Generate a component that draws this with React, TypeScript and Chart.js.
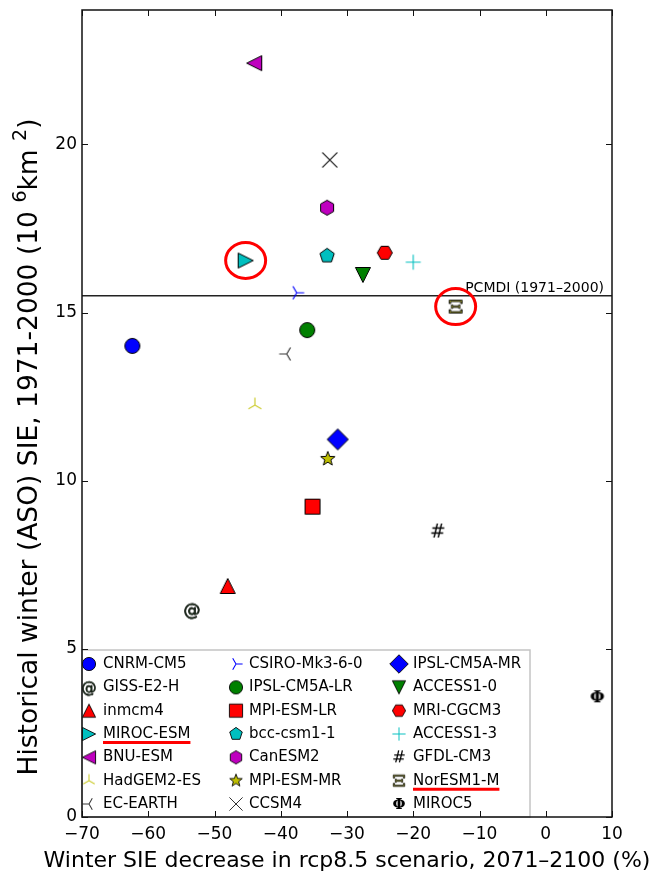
import React, { useEffect, useRef } from "react";
import { Chart, registerables } from "chart.js";

Chart.register(...registerables);

// ---------------- data ----------------
const models = [
  "CNRM-CM5", "GISS-E2-H", "inmcm4", "MIROC-ESM", "BNU-ESM", "HadGEM2-ES", "EC-EARTH",
  "CSIRO-Mk3-6-0", "IPSL-CM5A-LR", "MPI-ESM-LR", "bcc-csm1-1", "CanESM2", "MPI-ESM-MR", "CCSM4",
  "IPSL-CM5A-MR", "ACCESS1-0", "MRI-CGCM3", "ACCESS1-3", "GFDL-CM3", "NorESM1-M", "MIROC5",
];
const sieDecrease = [
  -62.4, -53.4, -48.0, -45.3, -44.0, -43.9, -39.1,
  -37.6, -36.0, -35.2, -33.0, -33.0, -32.9, -32.6,
  -31.4, -27.6, -24.3, -20.0, -16.3, -13.6, 7.8,
];
const historicalSIE = [
  14.01, 6.14, 6.87, 16.55, 22.42, 12.25, 13.77,
  15.59, 14.48, 9.23, 16.69, 18.12, 10.65, 19.54,
  11.23, 16.12, 16.78, 16.5, 8.49, 15.18, 3.56,
];
const pcmdiSIE = 15.5;
const pcmdiLabel = "PCMDI (1971–2000)";
const highlighted = ["MIROC-ESM", "NorESM1-M"];
const xTicks = [-70, -60, -50, -40, -30, -20, -10, 0, 10];
const yTicks = [0, 5, 10, 15, 20];
const yMax = 24;
const xTitle = "Winter SIE decrease in rcp8.5 scenario, 2071–2100 (%)";

// ---------------- styles ----------------
const markerKinds = [
  "o", "@", "^", ">", "<", "2", "3",
  "4", "o", "s", "p", "h", "*", "x",
  "D", "v", "H", "+", "#", "Xi", "Phi",
];
const markerColors = [
  "#0000ff", "#2a4a2a", "#ff0000", "#00bfbf", "#bf00bf", "#cccc30", "#3a3a3a",
  "#0000ff", "#008000", "#ff0000", "#00bfbf", "#bf00bf", "#bfbf00", "#2a2a2a",
  "#0000ff", "#008000", "#ff0000", "#00bfbf", "#000000", "#9a9a20", "#000000",
];

function makeMarker(kind: string, color: string, scale = 1): HTMLCanvasElement {
  const S = Math.ceil(34 * scale);
  const c = document.createElement("canvas");
  c.width = S;
  c.height = S;
  const g = c.getContext("2d")!;
  g.translate(S / 2, S / 2);
  g.scale(scale, scale);
  const r = 7.5;
  g.lineWidth = 1;
  g.strokeStyle = "#000";
  g.fillStyle = color;
  g.lineJoin = "miter";
  const poly = (pts: number[][]) => {
    g.beginPath();
    pts.forEach(([x, y], i) => (i ? g.lineTo(x, y) : g.moveTo(x, y)));
    g.closePath();
    g.fill();
    g.stroke();
  };
  const reg = (n: number, rad: number, start: number) => {
    const pts: number[][] = [];
    for (let k = 0; k < n; k++) {
      const a = start + (k * 2 * Math.PI) / n;
      pts.push([rad * Math.cos(a), rad * Math.sin(a)]);
    }
    return pts;
  };
  const arms = (pts: number[][]) => {
    g.strokeStyle = color;
    g.lineWidth = 1.2;
    g.beginPath();
    pts.forEach(([x, y]) => {
      g.moveTo(0, 0);
      g.lineTo(x, y);
    });
    g.stroke();
  };
  const text = (ch: string, font: string, stroke: boolean, dy = 0) => {
    g.font = font;
    g.textAlign = "center";
    g.textBaseline = "middle";
    g.fillStyle = color;
    g.fillText(ch, 0, dy);
    if (stroke) {
      g.lineWidth = 0.7;
      g.strokeStyle = "#000";
      g.strokeText(ch, 0, dy);
    }
  };
  switch (kind) {
    case "o":
      g.beginPath();
      g.arc(0, 0, r, 0, Math.PI * 2);
      g.fill();
      g.stroke();
      break;
    case "^":
      poly([[0, -r], [-r, r], [r, r]]);
      break;
    case "v":
      poly([[0, r], [-r, -r], [r, -r]]);
      break;
    case ">":
      poly([[r, 0], [-r, -r], [-r, r]]);
      break;
    case "<":
      poly([[-r, 0], [r, -r], [r, r]]);
      break;
    case "s":
      poly([[-r, -r], [r, -r], [r, r], [-r, r]]);
      break;
    case "D": {
      const d = r * 1.4;
      poly([[0, -d], [d, 0], [0, d], [-d, 0]]);
      break;
    }
    case "p":
      poly(reg(5, r, -Math.PI / 2));
      break;
    case "h":
      poly(reg(6, r, -Math.PI / 2));
      break;
    case "H":
      poly(reg(6, r, 0));
      break;
    case "*": {
      const pts: number[][] = [];
      for (let k = 0; k < 10; k++) {
        const a = -Math.PI / 2 + (k * Math.PI) / 5;
        const rad = k % 2 === 0 ? r : r * 0.42;
        pts.push([rad * Math.cos(a), rad * Math.sin(a)]);
      }
      poly(pts);
      break;
    }
    case "x":
      g.strokeStyle = color;
      g.lineWidth = 1.1;
      g.beginPath();
      g.moveTo(-r, -r);
      g.lineTo(r, r);
      g.moveTo(-r, r);
      g.lineTo(r, -r);
      g.stroke();
      break;
    case "+":
      g.strokeStyle = color;
      g.lineWidth = 1.1;
      g.beginPath();
      g.moveTo(-r, 0);
      g.lineTo(r, 0);
      g.moveTo(0, -r);
      g.lineTo(0, r);
      g.stroke();
      break;
    case "2":
      arms([[0, -r], [-0.866 * r, 0.5 * r], [0.866 * r, 0.5 * r]]);
      break;
    case "3":
      arms([[-r, 0], [0.5 * r, -0.866 * r], [0.5 * r, 0.866 * r]]);
      break;
    case "4":
      arms([[r, 0], [-0.5 * r, -0.866 * r], [-0.5 * r, 0.866 * r]]);
      break;
    case "@":
      text("@", "17px 'DejaVu Sans'", true, 1);
      break;
    case "#":
      text("#", "19px 'DejaVu Sans'", false, 1);
      break;
    case "Xi": {
      // Greek capital Xi drawn as outlined bars (text-marker look)
      g.fillStyle = color;
      g.strokeStyle = "#111";
      g.lineWidth = 0.9;
      const shape = (pts: number[][]) => poly(pts);
      // top bar with downward serifs
      shape([[-6.5, -6.5], [6.5, -6.5], [6.5, -3], [5, -3], [5, -5], [-5, -5], [-5, -3], [-6.5, -3]]);
      // middle bar with small serifs
      shape([[-4.2, -1.8], [-3, -1.8], [-3, -0.8], [3, -0.8], [3, -1.8], [4.2, -1.8], [4.2, 1.8], [3, 1.8], [3, 0.8], [-3, 0.8], [-3, 1.8], [-4.2, 1.8]]);
      // bottom bar with upward serifs
      shape([[-6.5, 6.5], [6.5, 6.5], [6.5, 3], [5, 3], [5, 5], [-5, 5], [-5, 3], [-6.5, 3]]);
      break;
    }
    case "Phi":
      text("Φ", "bold 17px 'DejaVu Serif'", false, 1);
      break;
  }
  return c;
}

export default function App() {
  const ref = useRef<HTMLCanvasElement>(null);

  useEffect(() => {
    const canvas = ref.current!;
    const plotMarkers = models.map((_, i) => makeMarker(markerKinds[i], markerColors[i], 1));
    const legendMarkers = models.map((_, i) => makeMarker(markerKinds[i], markerColors[i], 0.88));
    const font = "'DejaVu Sans', 'Liberation Sans', sans-serif";
    const fmt = (v: number) => String(v).replace("-", "\u2212");

    const datasets: any[] = models.map((m, i) => ({
      label: m,
      data: [{ x: sieDecrease[i], y: historicalSIE[i] }],
      pointStyle: plotMarkers[i],
      pointRadius: 8,
      showLine: false,
    }));
    datasets.push({
      label: "PCMDI",
      type: "line",
      data: [
        { x: xTicks[0], y: pcmdiSIE },
        { x: xTicks[xTicks.length - 1], y: pcmdiSIE },
      ],
      borderColor: "#222",
      borderWidth: 1.5,
      pointRadius: 0,
      showLine: true,
    });

    const decor = {
      id: "decor",
      afterDraw(chart: any) {
        const ctx = chart.ctx as CanvasRenderingContext2D;
        const ca = chart.chartArea;
        const xs = chart.scales.x;
        const ys = chart.scales.y;
        ctx.save();

        // PCMDI label
        ctx.font = `14px ${font}`;
        ctx.fillStyle = "#000";
        ctx.textAlign = "right";
        ctx.textBaseline = "alphabetic";
        ctx.fillText(pcmdiLabel, ca.right - 8, ys.getPixelForValue(pcmdiSIE) - 4);

        // red ellipses around highlighted models
        ctx.strokeStyle = "#ff0000";
        ctx.lineWidth = 3;
        highlighted.forEach((m) => {
          const i = models.indexOf(m);
          const px = xs.getPixelForValue(sieDecrease[i]);
          const py = ys.getPixelForValue(historicalSIE[i]);
          ctx.beginPath();
          ctx.ellipse(px, py, 20, 18, 0, 0, Math.PI * 2);
          ctx.stroke();
        });

        // legend
        const lx = ca.left, lyTop = ca.bottom - 167, lw = 448, lh = 167;
        ctx.fillStyle = "#fff";
        ctx.fillRect(lx, lyTop, lw, lh);
        ctx.strokeStyle = "#c4c4c4";
        ctx.lineWidth = 1.5;
        ctx.strokeRect(lx, lyTop, lw, lh);
        const markX = [7, 154, 317];
        const textX = [21, 167, 331];
        ctx.font = `15px ${font}`;
        ctx.textAlign = "left";
        ctx.textBaseline = "middle";
        models.forEach((m, i) => {
          const col = Math.floor(i / 7);
          const row = i % 7;
          const cy = lyTop + 14 + row * 23.33;
          const mk = legendMarkers[i];
          ctx.drawImage(mk, lx + markX[col] - mk.width / 2, cy - mk.height / 2);
          ctx.fillStyle = "#000";
          ctx.fillText(m, lx + textX[col], cy);
          if (highlighted.includes(m)) {
            const w = ctx.measureText(m).width;
            ctx.strokeStyle = "#ff0000";
            ctx.lineWidth = 3;
            ctx.beginPath();
            ctx.moveTo(lx + textX[col], cy + 8.5);
            ctx.lineTo(lx + textX[col] + w, cy + 8.5);
            ctx.stroke();
          }
        });

        // frame
        ctx.strokeStyle = "#111";
        ctx.lineWidth = 1.5;
        ctx.strokeRect(ca.left, ca.top, ca.right - ca.left, ca.bottom - ca.top);

        // inward ticks on all sides
        ctx.lineWidth = 1;
        ctx.beginPath();
        xTicks.forEach((v) => {
          const px = Math.round(xs.getPixelForValue(v)) + 0.5;
          ctx.moveTo(px, ca.bottom);
          ctx.lineTo(px, ca.bottom - 6);
          ctx.moveTo(px, ca.top);
          ctx.lineTo(px, ca.top + 6);
        });
        yTicks.forEach((v) => {
          const py = Math.round(ys.getPixelForValue(v)) + 0.5;
          ctx.moveTo(ca.left, py);
          ctx.lineTo(ca.left + 6, py);
          ctx.moveTo(ca.right, py);
          ctx.lineTo(ca.right - 6, py);
        });
        ctx.stroke();

        // x title
        ctx.fillStyle = "#000";
        ctx.font = `22px ${font}`;
        ctx.textAlign = "center";
        ctx.textBaseline = "alphabetic";
        ctx.fillText(xTitle, (ca.left + ca.right) / 2, 867);

        // y title with superscripts
        const fs = 26.5;
        const segs: [string, boolean][] = [
          ["Historical winter (ASO) SIE, 1971-2000 (10 ", false],
          ["6", true],
          ["km ", false],
          ["2", true],
          [")", false],
        ];
        const widths = segs.map(([t, sup]) => {
          ctx.font = `${sup ? Math.round(fs * 0.7) : fs}px ${font}`;
          return ctx.measureText(t).width;
        });
        const total = widths.reduce((a, b) => a + b, 0);
        ctx.translate(37, 447);
        ctx.rotate(-Math.PI / 2);
        ctx.textAlign = "left";
        let cx = -total / 2;
        segs.forEach(([t, sup], k) => {
          ctx.font = `${sup ? Math.round(fs * 0.7) : fs}px ${font}`;
          ctx.fillText(t, cx, sup ? -fs * 0.42 : 0);
          cx += widths[k];
        });
        ctx.restore();
      },
    };

    const chart = new Chart(canvas, {
      type: "scatter",
      data: { datasets },
      options: {
        animation: false,
        responsive: false,
        events: [],
        layout: { padding: { top: 10, right: 44, left: 0, bottom: 0 } },
        plugins: { legend: { display: false }, tooltip: { enabled: false } },
        scales: {
          x: {
            type: "linear",
            min: xTicks[0],
            max: xTicks[xTicks.length - 1],
            grid: { display: false, drawTicks: false },
            border: { display: false },
            afterFit: (s: any) => {
              s.height = 63;
              s.paddingLeft = 0;
              s.paddingRight = 0;
            },
            afterBuildTicks: (s: any) => {
              s.ticks = xTicks.map((v) => ({ value: v }));
            },
            ticks: {
              padding: 7,
              maxRotation: 0,
              autoSkip: false,
              color: "#000",
              font: { family: font, size: 17 },
              callback: (v: any) => fmt(Number(v)),
            },
          },
          y: {
            type: "linear",
            min: 0,
            max: yMax,
            grid: { display: false, drawTicks: false },
            border: { display: false },
            afterFit: (s: any) => {
              s.width = 82;
              s.paddingTop = 0;
              s.paddingBottom = 0;
            },
            afterBuildTicks: (s: any) => {
              s.ticks = yTicks.map((v) => ({ value: v }));
            },
            ticks: {
              padding: 5,
              autoSkip: false,
              color: "#000",
              font: { family: font, size: 17 },
              callback: (v: any) => fmt(Number(v)),
            },
          },
        },
      } as any,
      plugins: [decor],
    });
    return () => chart.destroy();
  }, []);

  return (
    <div style={{ position: "absolute", left: 0, top: 0, width: 656, height: 880, background: "#fff" }}>
      <canvas ref={ref} width={656} height={880} style={{ display: "block", width: 656, height: 880 }} />
    </div>
  );
}
